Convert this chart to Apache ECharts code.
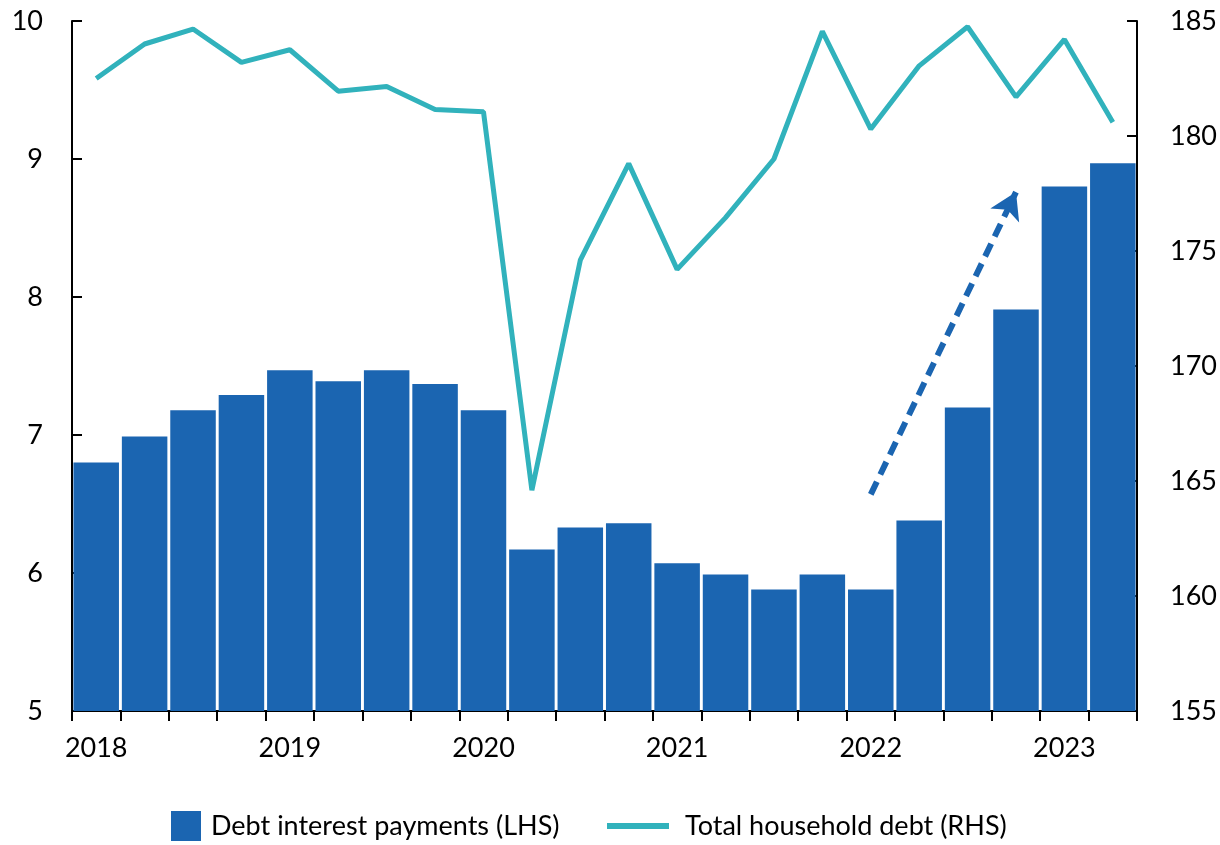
<!DOCTYPE html>
<html>
<head>
<meta charset="utf-8">
<script src="https://cdn.jsdelivr.net/npm/echarts@6/dist/echarts.min.js"></script>
<style>
html,body{margin:0;padding:0;background:#fff;}
#chart{width:1220px;height:845px;}
</style>
</head>
<body>
<div id="chart"></div>
<script>
const categories = [
  '2018 Q1','2018 Q2','2018 Q3','2018 Q4',
  '2019 Q1','2019 Q2','2019 Q3','2019 Q4',
  '2020 Q1','2020 Q2','2020 Q3','2020 Q4',
  '2021 Q1','2021 Q2','2021 Q3','2021 Q4',
  '2022 Q1','2022 Q2','2022 Q3','2022 Q4',
  '2023 Q1','2023 Q2'
];
const interestPayments = [6.80, 6.99, 7.18, 7.29, 7.47, 7.39, 7.47, 7.37, 7.18, 6.17, 6.33, 6.36, 6.07, 5.99, 5.88, 5.99, 5.88, 6.38, 7.20, 7.91, 8.80, 8.97];
const householdDebt = [182.5, 184.0, 184.65, 183.2, 183.75, 181.95, 182.15, 181.15, 181.05, 164.6, 174.6, 178.8, 174.2, 176.45, 179.0, 184.55, 180.3, 183.05, 184.75, 181.7, 184.2, 180.6];
const arrowStart = [16, 6.57];
const arrowEnd = [19, 8.76];
const seriesNames = ['Debt interest payments (LHS)', 'Total household debt (RHS)'];

const FONT = 'Lato';
const chart = echarts.init(document.getElementById('chart'));
chart.setOption({
  animation: false,
  textStyle: { fontFamily: FONT, color: '#000' },
  grid: { left: 72, right: 82, top: 21, bottom: 134 },
  legend: [
    {
      data: [{ name: seriesNames[0], icon: 'rect' }],
      left: 171, top: 811, padding: 0,
      itemWidth: 30, itemHeight: 30,
      textStyle: { fontFamily: FONT, fontSize: 27, lineHeight: 30, color: '#000', padding: [0, 0, 0, 5] }
    },
    {
      data: [{ name: seriesNames[1], icon: 'rect' }],
      left: 607, top: 811, padding: 0,
      itemWidth: 62, itemHeight: 6,
      textStyle: { fontFamily: FONT, fontSize: 27, lineHeight: 30, color: '#000', padding: [0, 0, 0, 11] }
    }
  ],
  xAxis: {
    type: 'category',
    data: categories,
    boundaryGap: true,
    axisLine: { show: true, lineStyle: { color: '#000', width: 2 } },
    axisTick: { show: true, interval: 0, length: 10, lineStyle: { color: '#000', width: 2 } },
    axisLabel: {
      interval: 3, margin: 24, fontFamily: FONT, fontSize: 27, color: '#000',
      formatter: v => v.split(' ')[0]
    },
    splitLine: { show: false }
  },
  yAxis: [
    {
      type: 'value', min: 5, max: 10, interval: 1, position: 'left',
      axisLine: { show: true, lineStyle: { color: '#000', width: 2 } },
      axisTick: { show: true, inside: true, length: 10, lineStyle: { color: '#000', width: 2 } },
      axisLabel: { margin: 29, fontFamily: FONT, fontSize: 27, color: '#000' },
      splitLine: { show: false }
    },
    {
      type: 'value', min: 155, max: 185, interval: 5, position: 'right',
      axisLine: { show: true, lineStyle: { color: '#000', width: 2 } },
      axisTick: { show: true, inside: true, length: 10, lineStyle: { color: '#000', width: 2 } },
      axisLabel: { margin: 33, fontFamily: FONT, fontSize: 27, color: '#000' },
      splitLine: { show: false }
    }
  ],
  series: [
    {
      name: seriesNames[0],
      type: 'bar',
      yAxisIndex: 0,
      data: interestPayments,
      barCategoryGap: '6%',
      itemStyle: { color: '#1b65b1' },
      z: 2,
      markLine: {
        silent: true,
        symbol: ['none', 'arrow'],
        symbolSize: [24, 26],
        label: { show: false },
        lineStyle: { color: '#1b65b1', width: 6, type: [14, 8] },
        data: [[{ coord: arrowStart }, { coord: arrowEnd }]]
      }
    },
    {
      name: seriesNames[1],
      type: 'line',
      yAxisIndex: 1,
      data: householdDebt,
      symbol: 'none',
      lineStyle: { color: '#31b2bc', width: 5 },
      itemStyle: { color: '#31b2bc' },
      z: 3
    }
  ]
});
</script>
</body>
</html>
